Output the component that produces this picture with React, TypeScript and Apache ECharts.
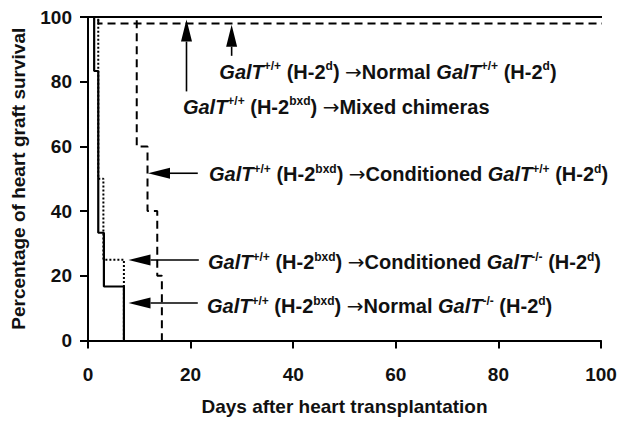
import React, { useEffect, useRef } from "react";
import * as echarts from "echarts";

const xTicks = [0, 20, 40, 60, 80, 100];
const yTicks = [0, 20, 40, 60, 80, 100];

// Kaplan-Meier style survival steps: [day, % survival]
const normalWT = [[0, 100], [103.5, 100]];
const mixedChimeras = [[0, 100], [2, 100], [2, 98], [103.5, 98]];
const conditionedWT = [[0, 100], [9.5, 100], [9.5, 60], [11.6, 60], [11.6, 40], [13.5, 40], [13.5, 20], [14.4, 20], [14.4, 0]];
const conditionedKO = [[0, 100], [2, 100], [2, 50], [3, 50], [3, 25], [7, 25], [7, 0]];
const normalKO = [[0, 100], [1.2, 100], [1.2, 83.3], [2, 83.3], [2, 33.3], [3.1, 33.3], [3.1, 16.7], [7, 16.7], [7, 0]];

// annotation arrows: [fromDay, fromPct, toDay, toPct]
const arrows = [
  [19.2, 77, 19.2, 99.2],
  [28, 88, 28, 97.6],
  [21.4, 51.7, 11.7, 51.7],
  [21.6, 24.9, 7.9, 24.9],
  [21.4, 11.6, 7.9, 11.6],
];

// annotation labels anchored at [day, pct] (left, middle)
const labelAnchors = [
  [25.6, 83],
  [18.5, 72.2],
  [23.6, 51.4],
  [23.4, 24.2],
  [23.2, 10.6],
];
const labelTexts = [
  "{g|GalT}{s|+/+}{n| (H-2}{s|d}{n|) }{a|→}{n|Normal }{g|GalT}{s|+/+}{n| (H-2}{s|d}{n|)}",
  "{g|GalT}{s|+/+}{n| (H-2}{s|bxd}{n|) }{a|→}{n|Mixed chimeras}",
  "{g|GalT}{s|+/+}{n| (H-2}{s|bxd}{n|) }{a|→}{n|Conditioned }{g|GalT}{s|+/+}{n| (H-2}{s|d}{n|)}",
  "{g|GalT}{s|+/+}{n| (H-2}{s|bxd}{n|) }{a|→}{n|Conditioned }{g|GalT}{s|-/-}{n| (H-2}{s|d}{n|)}",
  "{g|GalT}{s|+/+}{n| (H-2}{s|bxd}{n|) }{a|→}{n|Normal }{g|GalT}{s|-/-}{n| (H-2}{s|d}{n|)}",
];

const FONT = "'Liberation Sans', Arial, sans-serif";
const AF = 20;
const SF = 12;

export default function App() {
  const ref = useRef<HTMLDivElement>(null);
  useEffect(() => {
    if (!ref.current) return;
    const chart = echarts.init(ref.current, undefined, { renderer: "svg" });
    const lineSeries = (name: string, data: number[][], type: any, width = 2) => ({
      name,
      type: "line",
      data,
      showSymbol: false,
      symbol: "none",
      clip: false,
      lineStyle: { color: "#000", width, type },
      z: 3,
    });
    chart.setOption({
      animation: false,
      backgroundColor: "#fff",
      grid: { left: 88, right: 31, top: 17, bottom: 81.5 },
      xAxis: {
        type: "value",
        min: 0,
        max: 100,
        interval: 20,
        name: "Days after heart transplantation",
        nameLocation: "middle",
        nameGap: 56,
        nameTextStyle: { fontFamily: FONT, fontWeight: "bold", fontSize: 19, color: "#111" },
        axisLine: { show: true, onZero: false, lineStyle: { color: "#000", width: 2 } },
        axisTick: { show: true, inside: false, length: 8, lineStyle: { color: "#000", width: 2 } },
        axisLabel: { fontFamily: FONT, fontWeight: "bold", fontSize: 19, color: "#111", margin: 24, customValues: xTicks },
        splitLine: { show: false },
      },
      yAxis: {
        type: "value",
        min: 0,
        max: 100,
        interval: 20,
        name: "Percentage of heart graft survival",
        nameLocation: "middle",
        nameGap: 60,
        nameRotate: 90,
        nameTextStyle: { fontFamily: FONT, fontWeight: "bold", fontSize: 19, color: "#111" },
        axisLine: { show: true, onZero: false, lineStyle: { color: "#000", width: 2 } },
        axisTick: { show: true, inside: false, length: 8, lineStyle: { color: "#000", width: 2 } },
        axisLabel: { fontFamily: FONT, fontWeight: "bold", fontSize: 19, color: "#111", margin: 16, customValues: yTicks },
        splitLine: { show: false },
      },
      series: [
        lineSeries("Normal GalT+/+", normalWT, "solid", 2),
        lineSeries("Mixed chimeras", mixedChimeras, [8, 5], 2),
        lineSeries("Conditioned GalT+/+", conditionedWT, [8, 5], 2),
        lineSeries("Conditioned GalT-/-", conditionedKO, [2, 2], 2),
        lineSeries("Normal GalT-/-", normalKO, "solid", 2.2),
      ],
    });

    const px = (p: number[]) => chart.convertToPixel({ gridIndex: 0 }, p) as number[];
    const elements: any[] = [];
    arrows.forEach((a) => {
      const s = px([a[0], a[1]]);
      const e = px([a[2], a[3]]);
      const dx = e[0] - s[0];
      const dy = e[1] - s[1];
      const len = Math.sqrt(dx * dx + dy * dy);
      const ux = dx / len;
      const uy = dy / len;
      const hl = 22;
      const hw = 5.5;
      const bx = e[0] - ux * hl;
      const by = e[1] - uy * hl;
      elements.push({
        type: "line",
        shape: { x1: s[0], y1: s[1], x2: bx, y2: by },
        style: { stroke: "#000", lineWidth: 1.6 },
        z: 10,
      });
      elements.push({
        type: "polygon",
        shape: { points: [[e[0], e[1]], [bx - uy * hw, by + ux * hw], [bx + uy * hw, by - ux * hw]] },
        style: { fill: "#000" },
        z: 10,
      });
    });
    labelAnchors.forEach((p, i) => {
      const q = px(p);
      elements.push({
        type: "text",
        x: q[0],
        y: q[1],
        z: 10,
        style: {
          text: labelTexts[i],
          textAlign: "left",
          textVerticalAlign: "middle",
          fill: "#111",
          rich: {
            g: { fontFamily: FONT, fontWeight: "bold", fontStyle: "italic", fontSize: AF, lineHeight: 23, fill: "#111" },
            n: { fontFamily: FONT, fontWeight: "bold", fontSize: AF, lineHeight: 23, fill: "#111" },
            a: { fontFamily: "'DejaVu Sans', sans-serif", fontSize: 20, lineHeight: 23, fill: "#111" },
            s: { fontFamily: FONT, fontWeight: "bold", fontSize: SF, lineHeight: 15, verticalAlign: "top", fill: "#111" },
          },
        },
      });
    });
    chart.setOption({ graphic: { elements } });
    return () => chart.dispose();
  }, []);
  return <div ref={ref} style={{ position: "fixed", left: 0, top: 0, width: 632, height: 422 }} />;
}
